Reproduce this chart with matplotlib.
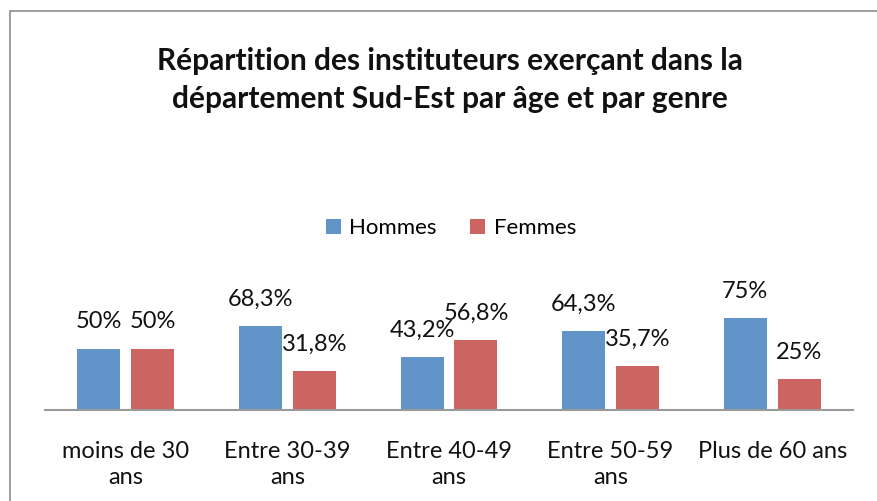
import matplotlib
matplotlib.use("Agg")
import matplotlib.pyplot as plt
from matplotlib.patches import Rectangle
import numpy as np

categories = ["moins de 30\nans", "Entre 30-39\nans", "Entre 40-49\nans",
              "Entre 50-59\nans", "Plus de 60 ans"]
hommes = [50, 68.3, 43.2, 64.3, 75]
femmes = [50, 31.8, 56.8, 35.7, 25]
hommes_labels = ["50%", "68,3%", "43,2%", "64,3%", "75%"]
femmes_labels = ["50%", "31,8%", "56,8%", "35,7%", "25%"]

BLUE = "#6194c9"
RED = "#cc6561"

plt.rcParams["font.family"] = ["Lato", "DejaVu Sans"]

W, H = 877, 501
fig = plt.figure(figsize=(W / 100, H / 100), dpi=100)

# chart border (left and top visible, rest runs off the picture)
fig.patches.append(Rectangle((10 / W, -0.1), 1.2, (H - 11) / H + 0.1,
                             transform=fig.transFigure, fill=False,
                             edgecolor="#8c8c8c", lw=1.2))

ax = fig.add_axes([45 / W, 91 / H, 808 / W, 98 / H])
x = np.arange(len(categories))
w = 0.266
off = 0.167
ax.bar(x - off, hommes, w, color=BLUE, label="Hommes")
ax.bar(x + off, femmes, w, color=RED, label="Femmes")

for xi, v, t in zip(x, hommes, hommes_labels):
    ax.annotate(t, (xi - off, v), xytext=(0, 27), textcoords="offset pixels",
                ha="center", va="center", fontsize=17, color="#111")
for xi, v, t in zip(x, femmes, femmes_labels):
    ax.annotate(t, (xi + off, v), xytext=(0, 27), textcoords="offset pixels",
                ha="center", va="center", fontsize=17, color="#111")

ax.set_xlim(-0.5, 4.5)
ax.set_ylim(0, 80)
ax.set_yticks([])
ax.set_xticks(x)
ax.set_xticklabels(categories, fontsize=17, color="#111", linespacing=1.3)
ax.tick_params(axis="x", length=0, pad=22)
for s in ["top", "right", "left"]:
    ax.spines[s].set_visible(False)
ax.spines["bottom"].set_color("#9a9a9a")
ax.spines["bottom"].set_linewidth(1.5)

fig.text(450 / W, 1 - 80 / H,
         "Répartition des instituteurs exerçant dans la\n"
         "département Sud-Est par âge et par genre",
         ha="center", va="center", fontsize=21.5, fontweight="bold",
         linespacing=1.4, color="#111")

fig.legend(loc="center", bbox_to_anchor=(451 / W, 1 - 228 / H), ncol=2,
           frameon=False, fontsize=16, handlelength=0.65, handleheight=0.65,
           handletextpad=0.4, columnspacing=1.5)

fig.savefig("out.png", dpi=100)
